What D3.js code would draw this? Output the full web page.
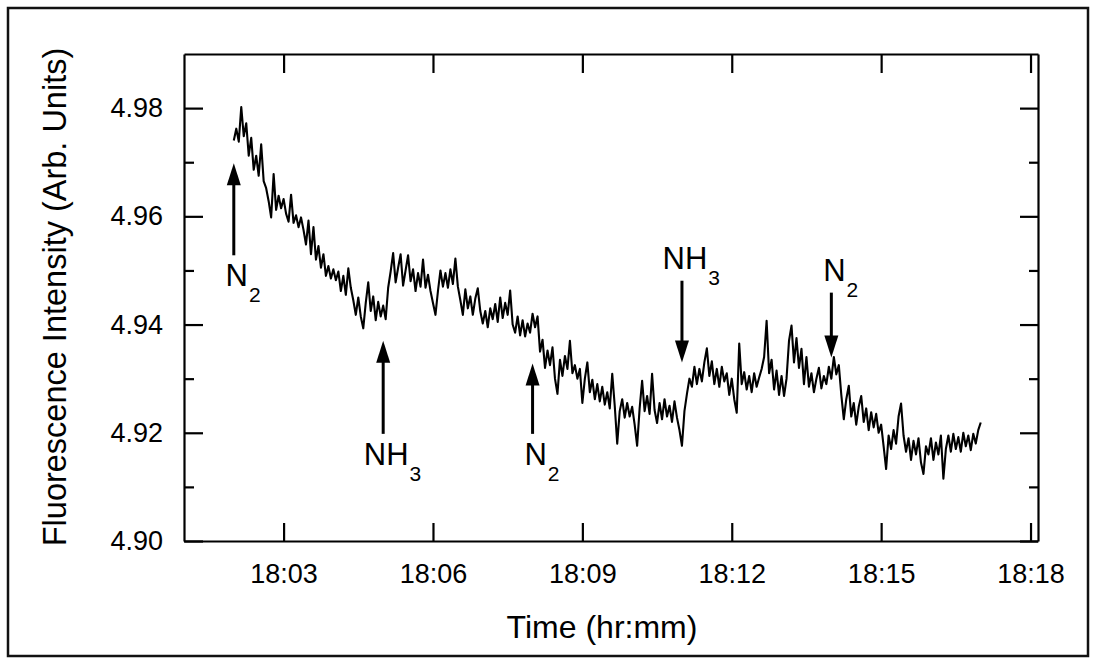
<!DOCTYPE html>
<html>
<head>
<meta charset="utf-8">
<script src="https://cdn.jsdelivr.net/npm/d3@7"></script>
<style>
	body { margin: 0; background: #fff; }
	svg { display: block; font-family: "Liberation Sans", Arial, sans-serif; }
</style>
</head>
<body>
<svg id="chart" width="1094" height="660"></svg>
<script>
//=================== DATA ====================================
// fluorescence trace, one reading every 3 s, one row per minute
var traceStart = "18:02:00";
var sampleSeconds = 3;

var trace1802 = [4.9740, 4.9762, 4.9738, 4.9802, 4.9748, 4.9772, 4.9712, 4.9745, 4.9686, 4.9712,
	4.9675, 4.9733, 4.9665, 4.9652, 4.9628, 4.9598, 4.9678, 4.9612, 4.9638, 4.9615];
var trace1803 = [4.9632, 4.9605, 4.9590, 4.9640, 4.9588, 4.9602, 4.9580, 4.9598, 4.9575, 4.9548,
	4.9592, 4.9530, 4.9580, 4.9520, 4.9545, 4.9505, 4.9530, 4.9490, 4.9508, 4.9485];
var trace1804 = [4.9502, 4.9482, 4.9498, 4.9462, 4.9490, 4.9455, 4.9504, 4.9468, 4.9445, 4.9418,
	4.9450, 4.9415, 4.9393, 4.9440, 4.9478, 4.9425, 4.9452, 4.9408, 4.9442, 4.9415];
var trace1805 = [4.9435, 4.9410, 4.9468, 4.9498, 4.9532, 4.9478, 4.9505, 4.9530, 4.9472, 4.9500,
	4.9528, 4.9480, 4.9502, 4.9462, 4.9495, 4.9470, 4.9520, 4.9468, 4.9492, 4.9462];
var trace1806 = [4.9440, 4.9418, 4.9462, 4.9500, 4.9470, 4.9495, 4.9468, 4.9502, 4.9475, 4.9522,
	4.9470, 4.9445, 4.9418, 4.9465, 4.9430, 4.9452, 4.9418, 4.9448, 4.9467, 4.9425];
var trace1807 = [4.9402, 4.9425, 4.9395, 4.9430, 4.9410, 4.9438, 4.9405, 4.9450, 4.9412, 4.9440,
	4.9418, 4.9463, 4.9400, 4.9385, 4.9415, 4.9380, 4.9408, 4.9378, 4.9402, 4.9385];
var trace1808 = [4.9420, 4.9395, 4.9415, 4.9350, 4.9372, 4.9320, 4.9352, 4.9325, 4.9358, 4.9300,
	4.9272, 4.9335, 4.9305, 4.9342, 4.9318, 4.9370, 4.9310, 4.9325, 4.9300, 4.9318];
var trace1809 = [4.9255, 4.9300, 4.9330, 4.9275, 4.9298, 4.9262, 4.9290, 4.9258, 4.9285, 4.9252,
	4.9275, 4.9245, 4.9309, 4.9250, 4.9180, 4.9240, 4.9262, 4.9228, 4.9255, 4.9230];
var trace1810 = [4.9248, 4.9215, 4.9176, 4.9245, 4.9296, 4.9240, 4.9268, 4.9235, 4.9309, 4.9242,
	4.9218, 4.9255, 4.9225, 4.9262, 4.9230, 4.9250, 4.9220, 4.9258, 4.9228, 4.9205];
var trace1811 = [4.9176, 4.9240, 4.9272, 4.9300, 4.9285, 4.9322, 4.9290, 4.9318, 4.9295, 4.9330,
	4.9356, 4.9305, 4.9332, 4.9290, 4.9318, 4.9285, 4.9322, 4.9295, 4.9310, 4.9270];
var trace1812 = [4.9300, 4.9262, 4.9237, 4.9365, 4.9290, 4.9312, 4.9280, 4.9305, 4.9275, 4.9310,
	4.9285, 4.9302, 4.9318, 4.9340, 4.9407, 4.9310, 4.9335, 4.9280, 4.9315, 4.9270];
var trace1813 = [4.9305, 4.9268, 4.9300, 4.9370, 4.9398, 4.9330, 4.9375, 4.9320, 4.9355, 4.9290,
	4.9340, 4.9285, 4.9310, 4.9275, 4.9300, 4.9320, 4.9282, 4.9305, 4.9290, 4.9322];
var trace1814 = [4.9300, 4.9340, 4.9308, 4.9325, 4.9270, 4.9225, 4.9262, 4.9287, 4.9230, 4.9255,
	4.9215, 4.9248, 4.9268, 4.9220, 4.9245, 4.9205, 4.9238, 4.9210, 4.9235, 4.9200];
var trace1815 = [4.9215, 4.9175, 4.9133, 4.9195, 4.9170, 4.9205, 4.9180, 4.9230, 4.9254, 4.9195,
	4.9165, 4.9190, 4.9150, 4.9185, 4.9160, 4.9190, 4.9145, 4.9124, 4.9175, 4.9160];
var trace1816 = [4.9190, 4.9150, 4.9182, 4.9160, 4.9195, 4.9115, 4.9170, 4.9195, 4.9165, 4.9198,
	4.9170, 4.9192, 4.9165, 4.9200, 4.9175, 4.9195, 4.9168, 4.9198, 4.9180, 4.9205];
var trace1817 = [4.9219];

var yTickValues = [4.90, 4.92, 4.94, 4.96, 4.98];
var yMinorValues = [4.91, 4.93, 4.95, 4.97];
var xTickLabels = ["18:03", "18:06", "18:09", "18:12", "18:15", "18:18"];

// gas switching events (arrow tip / tail in intensity units)
var eventTimes = ["18:02", "18:05", "18:08", "18:11", "18:14"];
var eventGas = ["N", "NH", "N", "NH", "N"];
var eventSub = ["2", "3", "2", "3", "2"];
var eventDir = ["up", "up", "up", "down", "down"];
var eventTip = [4.9698, 4.9370, 4.9328, 4.9330, 4.9339];
var eventTail = [4.9528, 4.9198, 4.9198, 4.9481, 4.9459];

//=================== LAYOUT ====================================
var plotLeft = 184, plotRight = 1038, plotTop = 54, plotBottom = 541;

var parseHM = d3.timeParse("%H:%M");
var parseHMS = d3.timeParse("%H:%M:%S");

var xScale = d3.scaleTime()
	.domain([parseHM("18:01"), parseHMS("18:18:09")])
	.range([plotLeft, plotRight]);

var yScale = d3.scaleLinear()
	.domain([4.90, 4.99])
	.range([plotBottom, plotTop]);

var svg = d3.select("#chart");

// outer frame
svg.append("rect")
	.attr("x", 8).attr("y", 8)
	.attr("width", 1080).attr("height", 648)
	.attr("fill", "none")
	.attr("stroke", "#111")
	.attr("stroke-width", 2.5);

//=================== AXES ====================================
var xTicks = xTickLabels.map(parseHM);

function styleAxis(g) {
	g.attr("font-size", null).attr("font-family", null);
	g.selectAll(".domain").attr("stroke", "#000").attr("stroke-width", 2.2);
	g.selectAll(".tick line").attr("stroke", "#000").attr("stroke-width", 2.2);
	g.selectAll(".tick text").attr("fill", "#000");
}

svg.append("g")
	.attr("transform", "translate(0," + plotBottom + ")")
	.call(d3.axisBottom(xScale).tickValues(xTicks).tickFormat(d3.timeFormat("%H:%M"))
		.tickSizeInner(-18).tickSizeOuter(0).tickPadding(23))
	.call(styleAxis)
	.selectAll(".tick text").attr("font-size", 27);

svg.append("g")
	.attr("transform", "translate(0," + plotTop + ")")
	.call(d3.axisTop(xScale).tickValues(xTicks).tickFormat("")
		.tickSizeInner(-19).tickSizeOuter(0))
	.call(styleAxis);

svg.append("g")
	.attr("transform", "translate(" + plotLeft + ",0)")
	.call(d3.axisLeft(yScale).tickValues(yTickValues).tickFormat(d3.format(".2f"))
		.tickSizeInner(-19).tickSizeOuter(0).tickPadding(21))
	.call(styleAxis)
	.selectAll(".tick text").attr("font-size", 27);

svg.append("g")
	.attr("transform", "translate(" + plotLeft + ",0)")
	.call(d3.axisLeft(yScale).tickValues(yMinorValues).tickFormat("")
		.tickSizeInner(-10).tickSizeOuter(0))
	.call(styleAxis)
	.select(".domain").remove();

svg.append("g")
	.attr("transform", "translate(" + plotRight + ",0)")
	.call(d3.axisRight(yScale).tickValues(yTickValues).tickFormat("")
		.tickSizeInner(-18).tickSizeOuter(0))
	.call(styleAxis);

svg.append("g")
	.attr("transform", "translate(" + plotRight + ",0)")
	.call(d3.axisRight(yScale).tickValues(yMinorValues).tickFormat("")
		.tickSizeInner(-9).tickSizeOuter(0))
	.call(styleAxis)
	.select(".domain").remove();

// axis titles
svg.append("text")
	.attr("x", 602).attr("y", 638)
	.attr("text-anchor", "middle")
	.attr("font-size", 32)
	.text("Time (hr:mm)");

svg.append("text")
	.attr("transform", "translate(66,297) rotate(-90)")
	.attr("text-anchor", "middle")
	.attr("font-size", 32.5)
	.text("Fluorescence Intensity (Arb. Units)");

//=================== TRACE ====================================
var traceRows = [trace1802, trace1803, trace1804, trace1805, trace1806, trace1807, trace1808,
	trace1809, trace1810, trace1811, trace1812, trace1813, trace1814, trace1815, trace1816, trace1817];
var t0 = parseHMS(traceStart);
var dataset = d3.merge(traceRows).map(function (v, i) {
	return { t: d3.timeSecond.offset(t0, i * sampleSeconds), v: v };
});

var line = d3.line()
	.x(function (d) { return xScale(d.t); })
	.y(function (d) { return yScale(d.v); });

svg.append("path")
	.datum(dataset)
	.attr("d", line)
	.attr("fill", "none")
	.attr("stroke", "#000")
	.attr("stroke-width", 2.1)
	.attr("stroke-linejoin", "round");

//=================== EVENT ARROWS ====================================
var headLen = 22, headHalf = 7;

eventTimes.forEach(function (tm, i) {
	var x = xScale(parseHM(tm));
	var yTip = yScale(eventTip[i]);
	var yTail = yScale(eventTail[i]);
	var up = eventDir[i] === "up";
	var sgn = up ? 1 : -1;
	var g = svg.append("g");

	g.append("line")
		.attr("x1", x).attr("x2", x)
		.attr("y1", yTail).attr("y2", yTip + sgn * (headLen - 2))
		.attr("stroke", "#000").attr("stroke-width", 3);

	g.append("path")
		.attr("d", "M" + x + "," + yTip +
			"L" + (x - headHalf) + "," + (yTip + sgn * headLen) +
			"L" + (x + headHalf) + "," + (yTip + sgn * headLen) + "Z")
		.attr("fill", "#000");

	var baseY = up ? yTail + 31 : yTail - 12;
	var cx = x + 3;
	var main = g.append("text")
		.attr("x", cx).attr("y", baseY)
		.attr("text-anchor", "middle")
		.attr("font-size", 31)
		.text(eventGas[i]);
	var w = main.node().getComputedTextLength();
	g.append("text")
		.attr("x", cx + w / 2 + 1).attr("y", baseY + 16)
		.attr("font-size", 21)
		.text(eventSub[i]);
});
</script>
</body>
</html>
